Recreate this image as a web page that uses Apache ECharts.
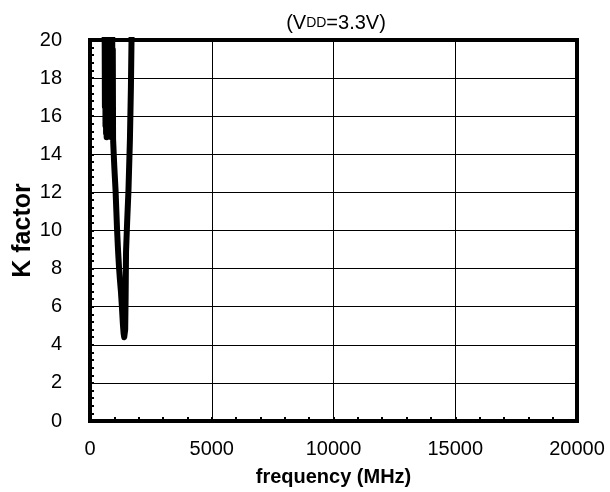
<!DOCTYPE html>
<html>
<head>
<meta charset="utf-8">
<script src="https://cdn.jsdelivr.net/npm/echarts@6/dist/echarts.min.js"></script>
<style>html,body{margin:0;padding:0;background:#fff}#c{width:610px;height:492px}</style>
</head>
<body>
<div id="c"></div>
<script>
var freq = [580,600,612,624,636,648,660,672,684,696,708,720,732,744,756,768,780,792,804,816,828,840,852,864,876,888,900,912,924,936,948,958,975,1000,1025,1050,1080,1110,1150,1190,1230,1270,1310,1350,1380,1405,1425,1445,1462,1480,1530,1580,1640,1680,1705,1730];
var kValues = [25,21,16.5,22,15.5,22.5,15.1,21.5,14.9,22,15.1,21.5,15.0,22,15.2,21,15.1,22,15.3,21.5,15.0,21.2,15.3,21,14.9,20.8,15.2,20.5,15.0,19.5,14.8,14.5,14.0,13.3,12.7,12.1,11.1,10.1,9.0,8.1,7.4,6.8,6.0,5.1,4.6,4.4,4.4,4.8,6.4,8.9,10.6,12.1,14.8,17.5,20,23];
var xTicks = [0,5000,10000,15000,20000];
var yTicks = [0,2,4,6,8,10,12,14,16,18,20];

var data = freq.map(function(f,i){return [f,kValues[i]];});
var chart = echarts.init(document.getElementById('c'));
var font = '"Liberation Sans", Arial, sans-serif';
chart.setOption({
  animation:false,
  title:{
    text:'(V{s|DD}=3.3V)',
    left:331, top:8, textAlign:'center',
    textStyle:{fontFamily:font,fontSize:20,fontWeight:'normal',color:'#000',
      rich:{s:{fontFamily:font,fontSize:14,color:'#000'}}}
  },
  grid:{left:90,right:33,top:40,bottom:71,show:true,borderColor:'#000',borderWidth:4,backgroundColor:'transparent',outerBoundsMode:'none',containLabel:false},
  xAxis:{
    type:'value',min:xTicks[0],max:xTicks[xTicks.length-1],interval:5000,
    name:'frequency (MHz)',nameLocation:'middle',nameGap:46,nameMoveOverlap:false,
    nameTextStyle:{fontFamily:font,fontSize:20,fontWeight:'bold',color:'#000'},
    axisLine:{show:false},
    axisTick:{show:true,inside:true,length:4,lineStyle:{color:'#000',width:2}},
    minorTick:{show:true,splitNumber:5,length:4,lineStyle:{color:'#000',width:2}},
    splitLine:{show:true,lineStyle:{color:'#000',width:1}},
    axisLabel:{fontFamily:font,fontSize:20,color:'#000',margin:18,formatter:function(v){return String(v);}}
  },
  yAxis:{
    type:'value',min:yTicks[0],max:yTicks[yTicks.length-1],interval:2,
    name:'K factor',nameLocation:'middle',nameGap:54,nameMoveOverlap:false,
    nameTextStyle:{fontFamily:font,fontSize:25,fontWeight:'bold',color:'#000'},
    axisLine:{show:false},
    axisTick:{show:true,inside:true,length:4,lineStyle:{color:'#000',width:2}},
    minorTick:{show:true,splitNumber:5,length:4,lineStyle:{color:'#000',width:2}},
    splitLine:{show:true,lineStyle:{color:'#000',width:1}},
    axisLabel:{fontFamily:font,fontSize:20,color:'#000',margin:28}
  },
  series:[{
    type:'line',data:data,showSymbol:false,symbol:'none',clip:true,
    lineStyle:{color:'#000',width:6,join:'round',cap:'round'}
  }]
});
</script>
</body>
</html>
